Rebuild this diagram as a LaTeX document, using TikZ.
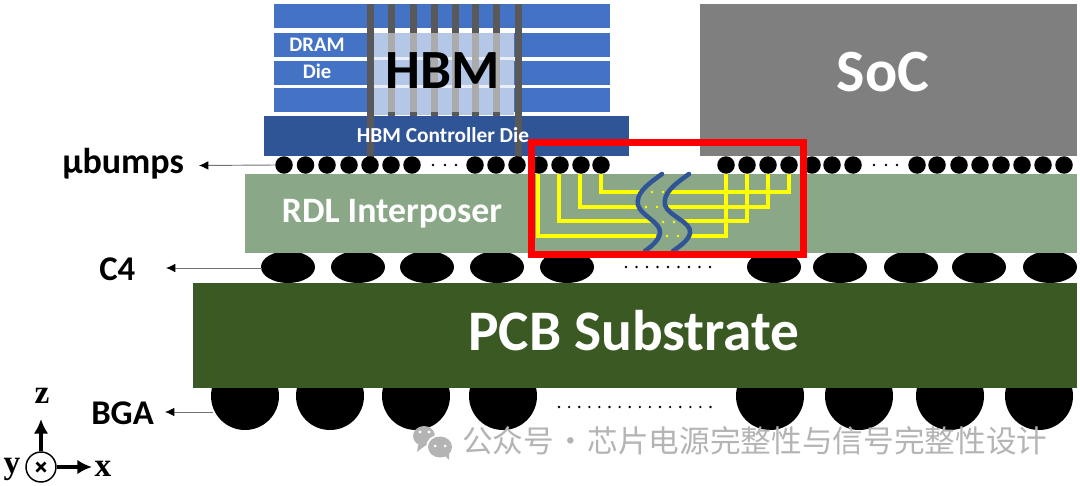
\documentclass[tikz,border=0pt]{standalone}
\usepackage{fontspec}
\setmainfont{Carlito}
\newfontfamily\cjk{Noto Sans CJK SC}
\newfontfamily\axisfont{Liberation Serif}
\usetikzlibrary{arrows.meta}
\definecolor{dram}{HTML}{4472C4}
\definecolor{ctrl}{HTML}{2F5597}
\definecolor{hbmlight}{HTML}{B4C7E7}
\definecolor{tsv}{HTML}{595959}
\definecolor{tsvlight}{HTML}{ABABAB}
\definecolor{socgray}{HTML}{7F7F7F}
\definecolor{rdl}{HTML}{8AA888}
\definecolor{pcb}{HTML}{3B5A23}
\definecolor{wm}{HTML}{B4B4B4}
\definecolor{rdlyellow}{HTML}{FFFF00}
\tikzset{
  x=0.75pt,y=-0.75pt,
  bump/.style={circle,fill=black,draw=none,minimum size=17.5*0.75pt,inner sep=0pt},
  whitelabel/.style={text=white,inner sep=0pt},
  sidelabel/.style={text=black,font=\bfseries\fontsize{26}{26}\selectfont,inner sep=0pt},
  leader/.style={draw=black!55,line width=0.7pt},
  leadertip/.style={-{Latex[length=7pt,width=6.5pt,black]}},
  wire/.style={draw=rdlyellow,line width=3.6pt,line join=miter},
  wave/.style={draw=ctrl,line width=3.4pt,line cap=round},
  ydot/.style={fill=rdlyellow,draw=none},
  axisarrow/.style={draw=black,line width=2.3pt,-{Latex[length=11pt,width=11pt]}},
  tdot/.style={fill=black,draw=none}
}
\begin{document}
\begin{tikzpicture}
\useasboundingbox (0,0) rectangle (1080,485);
% HBM stack
\foreach \a/\b in {4/28,33/57,61/85,88/112}{\fill[dram] (274,\a) rectangle (610,\b);}
\fill[hbmlight] (374,33) rectangle (514,115);
\foreach \a in {57,85}{\fill[white!70!hbmlight] (374,\a) rectangle (514,\a+3);}
\fill[ctrl] (263.5,115.5) rectangle (629,156);
\foreach \x in {391,413,434,455,475,496}{
  \fill[tsv] (\x-3.5,4) rectangle (\x+3.5,33);
  \fill[tsvlight] (\x-3.5,33) rectangle (\x+3.5,112);
  \fill[tsv] (\x-3.5,112) rectangle (\x+3.5,116);
}
\foreach \x in {370,518}{\fill[tsv] (\x-3.5,4) rectangle (\x+3.5,158);}
% SoC
\fill[socgray] (700,4) rectangle (1077,156);
% C4 (behind the interposer and substrate)
\foreach \x [count=\i] in {288,358,427,497,567,774,840,911,979,1050}{
  \fill (\x,267) ellipse (27 and 16);
  \coordinate (c\i) at (\x-26,268);
}
% BGA (behind the substrate)
\foreach \x [count=\i] in {245,330,416,503,770,859,950,1039}{
  \fill (\x,396) circle (34);
  \coordinate (b\i) at (\x-32,412);
}
% RDL, PCB
\fill[rdl] (245,174) rectangle (1077,253);
\fill[pcb] (193,283) rectangle (1077,388);
% microbumps
\foreach \x [count=\i] in {284,305.5,327,349,370,391,412,475,496,517,539,560,581,601,726,747,768,789,812,832,853,917,937,959,980,1001,1022,1043,1064}{
  \node[bump] (ub\i) at (\x,165) {};
}
\foreach \x in {433,445,456,874,886,897}{\fill[tdot] (\x,165) circle (1.4);}
\foreach \i in {0,...,8}{\fill[tdot] (626+\i*10.5,267) circle (1.3);}
\foreach \i in {0,...,15}{\fill[tdot] (559+\i*10.1,407) circle (1.3);}
% RDL wires
\draw[wire] (538,174) |- (656,236);
\draw[wire] (559,174) |- (652,221);
\draw[wire] (580,174) |- (638,207);
\draw[wire] (601,174) |- (643,192);
\draw[wire] (726,174) |- (688,236);
\draw[wire] (747,174) |- (680,221);
\draw[wire] (768,174) |- (666,207);
\draw[wire] (789,174) |- (669,192);
\foreach \x/\y in {652/192,663/192,646/207,657/207,663/222,674/222,667/236,678/236}{\fill[ydot] (\x,\y) circle (1.3);}
\draw[wave] (662,174) .. controls (645,186) and (636,194) .. (638,205) .. controls (641,216) and (661,222) .. (660,233) .. controls (659,240) and (652,246) .. (645,251);
\draw[wave] (689,174) .. controls (672,186) and (663,194) .. (665,205) .. controls (668,216) and (692,222) .. (690,233) .. controls (689,240) and (680,246) .. (673,251);
% Red frame
\draw[draw=red,line width=5.2pt] (531.5,142.5) rectangle (803.5,254.5);
% Labels
\node[inner sep=0pt,font=\bfseries\fontsize{41.5}{41.5}\selectfont] (hbm) at (443,71) {HBM};
\node[whitelabel,font=\bfseries\fontsize{45}{45}\selectfont] (soc) at (883,72) {SoC};
\node[whitelabel,font=\bfseries\fontsize{15.5}{15.5}\selectfont] (dram1) at (317,45) {DRAM};
\node[whitelabel,font=\bfseries\fontsize{15.5}{15.5}\selectfont] (dram2) at (317,71) {Die};
\node[whitelabel,font=\bfseries\fontsize{16}{16}\selectfont] (ctrlt) at (443,135) {HBM Controller Die};
\node[whitelabel,font=\bfseries\fontsize{26.8}{26.8}\selectfont] (rdlt) at (392,214) {RDL Interposer};
\node[whitelabel,font=\bfseries\fontsize{43}{43}\selectfont] (pcbt) at (634,331) {PCB Substrate};
\node[sidelabel,anchor=west,font=\bfseries\fontsize{27}{27}\selectfont] (lub) at (62,164) {µbumps};
\node[sidelabel,anchor=west] (lc4) at (99,269) {C4};
\node[sidelabel,anchor=west] (lbga) at (91,413) {BGA};
\draw[leader,leadertip] (ub1.west) -- (199,165.5);
\draw[leader,leadertip] (c1) -- (166,268);
\draw[leader,leadertip] (b1) -- (165,412);
% Axes
\node[circle,draw=black,line width=1.1pt,minimum size=30*0.75pt,inner sep=0pt] (ax) at (41,467) {};
\draw[line width=1.9pt] (36.5,462.5) -- (45.5,471.5) (36.5,471.5) -- (45.5,462.5);
\coordinate (axz) at (41,419);
\coordinate (axx) at (92,467);
\draw[axisarrow] (ax.north) -- (axz);
\draw[axisarrow] (ax.east) -- (axx);
\node[inner sep=0pt,font=\axisfont\bfseries\fontsize{25}{25}\selectfont] (lz) at (42,396) {z};
\node[inner sep=0pt,font=\axisfont\bfseries\fontsize{25}{25}\selectfont] (lx) at (103,469) {x};
\node[inner sep=0pt,font=\axisfont\bfseries\fontsize{25}{25}\selectfont] (ly) at (12,469) {y};
% Watermark
\fill[wm] (424,436) ellipse (11 and 10);
\fill[wm] (418,445) -- (417,452) -- (426,445) -- cycle;
\fill[white] (440,447) ellipse (14 and 12.5);
\fill[wm] (440,447) ellipse (12 and 10.5);
\fill[wm] (444,455) -- (449,460) -- (449,452) -- cycle;
\fill[white] (420,432) circle (1.7) (429,432) circle (1.7) (435,446) circle (1.5) (445,446) circle (1.5);
\node[inner sep=0pt,anchor=west,text=wm,font=\cjk\fontsize{23}{23}\selectfont] (wmt) at (462,441) {公众号\hspace{1pt}·\hspace{1pt}芯片电源完整性与信号完整性设计};
\end{tikzpicture}
\end{document}
